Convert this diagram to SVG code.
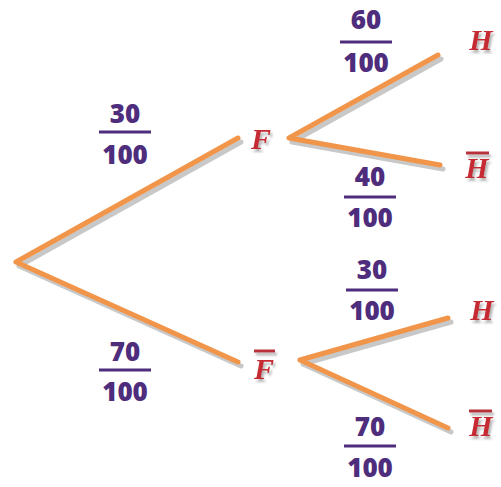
<svg xmlns="http://www.w3.org/2000/svg" width="501" height="487" viewBox="0 0 501 487">
<defs>
<filter id="ds" x="-30%" y="-30%" width="160%" height="160%"><feDropShadow dx="2" dy="3" stdDeviation="0.8" flood-color="#999" flood-opacity="0.7"/></filter>
</defs>
<style>
.sh{stroke:#c8c8c8;stroke-width:5;fill:none;stroke-linecap:round}
.br{stroke:#f0954a;stroke-width:5;fill:none;stroke-linecap:round}
.num{font-family:"Open Sans","Liberation Sans",sans-serif;font-weight:800;font-size:26px;fill:#4e2d7c;text-anchor:middle}
.bar{stroke:#4e2d7c;stroke-width:3}
.lt{font-family:"Liberation Serif",serif;font-weight:bold;font-style:italic;font-size:30px;fill:#c62a30;text-anchor:middle}
.ob{fill:#b8333a}
.lb{filter:url(#ds)}
</style>
<g id="connectors">
<path class="sh" d="M19 266 L241 142 M19 266 L241 366 M292 142 L441 59 M292 142 L443 169 M303 364 L451 322 M303 364 L451 432"/>
<path class="br" d="M16 262 L238 138 M16 262 L238 362 M289 138 L438 55 M289 138 L440 165 M300 360 L448 318 M300 360 L448 428"/>
</g>
<g id="p1"><text class="num" x="125" y="123">30</text><line class="bar" x1="99" y1="132" x2="151" y2="132"/><text class="num" x="125" y="164">100</text></g>
<g id="p2"><text class="num" x="125" y="361">70</text><line class="bar" x1="99" y1="370" x2="151" y2="370"/><text class="num" x="125" y="401">100</text></g>
<g id="p3"><text class="num" x="366" y="29">60</text><line class="bar" x1="340" y1="42" x2="392" y2="42"/><text class="num" x="366" y="72">100</text></g>
<g id="p4"><text class="num" x="370" y="186">40</text><line class="bar" x1="344" y1="197" x2="396" y2="197"/><text class="num" x="370" y="227">100</text></g>
<g id="p5"><text class="num" x="372" y="279">30</text><line class="bar" x1="346" y1="290" x2="398" y2="290"/><text class="num" x="372" y="320">100</text></g>
<g id="p6"><text class="num" x="370" y="436">70</text><line class="bar" x1="344" y1="446" x2="396" y2="446"/><text class="num" x="370" y="477">100</text></g>
<g id="F" class="lb"><text class="lt" x="261" y="149">F</text></g>
<g id="Fbar" class="lb"><rect class="ob" x="254" y="349.5" width="21" height="3"/><text class="lt" x="264" y="379">F</text></g>
<g id="H1" class="lb"><text class="lt" x="481" y="50">H</text></g>
<g id="H2" class="lb"><rect class="ob" x="466" y="151.5" width="23" height="3"/><text class="lt" x="477" y="178">H</text></g>
<g id="H3" class="lb"><text class="lt" x="482" y="320">H</text></g>
<g id="H4" class="lb"><rect class="ob" x="469" y="409.5" width="23" height="3"/><text class="lt" x="481" y="436">H</text></g>
</svg>
